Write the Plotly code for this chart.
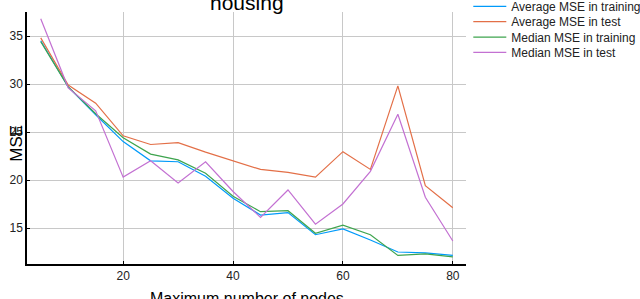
import plotly.graph_objects as go

nodes = [5, 10, 15, 20, 25, 30, 35, 40, 45, 50, 55, 60, 65, 70, 75, 80]
avg_train = [34.5, 29.7, 26.8, 24.0, 22.0, 21.9, 20.4, 18.1, 16.35, 16.6, 14.3, 14.9, 13.75, 12.5, 12.4, 12.15]
avg_test = [34.8, 29.9, 28.0, 24.6, 23.7, 23.9, 22.9, 22.0, 21.1, 20.8, 20.3, 22.95, 21.1, 29.8, 19.4, 17.1]
med_train = [34.4, 29.7, 26.9, 24.4, 22.7, 22.1, 20.7, 18.3, 16.7, 16.8, 14.45, 15.3, 14.3, 12.15, 12.3, 12.0]
med_test = [36.8, 29.6, 27.2, 20.3, 22.0, 19.7, 21.9, 18.8, 16.1, 18.96, 15.4, 17.5, 20.9, 26.85, 18.2, 13.65]

series_names = ["Average MSE in training", "Average MSE in test",
                "Median MSE in training", "Median MSE in test"]
series_vals = [avg_train, avg_test, med_train, med_test]
colors = ["#009AFA", "#E36F47", "#3EA44E", "#C371D2"]
x_ticks = [20, 40, 60, 80]
y_ticks = [15, 20, 25, 30, 35]

FONT = "Liberation Sans, Arial, Helvetica, sans-serif"

fig = go.Figure()
legend_ids = ["legend", "legend2", "legend3", "legend4"]
for name, vals, col, lid in zip(series_names, series_vals, colors, legend_ids):
    fig.add_trace(go.Scatter(x=nodes, y=vals, mode="lines", name=name,
                             line=dict(color=col, width=1.2), legend=lid))

W, H = 640, 299
ml, mr, mt, mb = 26.7, 174.3, 12.3, 35
pw = W - ml - mr
ph = H - mt - mb

def px_to_paper_y(py):
    return 1 - (py - mt) / ph

def px_to_paper_x(px):
    return (px - ml) / pw

leg_y = [6.7, 22.0, 37.3, 52.6]
layout_legends = {}
for lid, py in zip(legend_ids, leg_y):
    layout_legends[lid] = dict(
        x=px_to_paper_x(468), y=px_to_paper_y(py), xanchor="left", yanchor="middle",
        bgcolor="rgba(0,0,0,0)", borderwidth=0, itemwidth=33,
        font=dict(family=FONT, size=12, color="#222"),
    )

fig.update_layout(
    width=W, height=H,
    margin=dict(l=ml, r=mr, t=mt, b=mb, pad=0, autoexpand=False),
    paper_bgcolor="white", plot_bgcolor="white",
    font=dict(family=FONT, size=11, color="#222"),
    showlegend=True,
    **layout_legends,
)

fig.update_xaxes(range=[2.5, 82.4], tickvals=x_ticks, ticktext=[str(v) for v in x_ticks],
                 showgrid=True, gridcolor="#c8c8c8", gridwidth=1, zeroline=False,
                 showline=True, linecolor="black", linewidth=1.5, mirror=False,
                 ticks="inside", ticklen=3, tickcolor="black", tickwidth=1.2,
                 automargin=False,
                 tickfont=dict(family=FONT, size=12, color="#222"))
fig.update_yaxes(range=[11.25, 37.5], tickvals=y_ticks, ticktext=[str(v) for v in y_ticks],
                 showgrid=True, gridcolor="#c8c8c8", gridwidth=1, zeroline=False,
                 showline=True, linecolor="black", linewidth=1.5, mirror=False,
                 ticks="inside", ticklen=3, tickcolor="black", tickwidth=1.2,
                 automargin=False,
                 tickfont=dict(family=FONT, size=12, color="#222"))

fig.add_annotation(text="housing", xref="paper", yref="paper", x=0.5, y=1,
                   xanchor="center", yanchor="bottom", yshift=-4, showarrow=False,
                   font=dict(family=FONT, size=21, color="black"))
fig.add_annotation(text="Maximum number of nodes", xref="paper", yref="paper",
                   x=0.5, y=px_to_paper_y(288), xanchor="center", yanchor="top",
                   showarrow=False, font=dict(family=FONT, size=16, color="black"))
fig.add_annotation(text="MSE", xref="paper", yref="paper", textangle=-90,
                   x=px_to_paper_x(16.5), y=px_to_paper_y(143), xanchor="center",
                   yanchor="middle", showarrow=False,
                   font=dict(family=FONT, size=17, color="black"))

fig.write_html("out.html", config={"displayModeBar": False})

# remove the browser's default 8px body margin so the figure sits at the page origin
with open("out.html", "r", encoding="utf-8") as f:
    html = f.read()
html = html.replace("<body>", '<body style="margin:0;padding:0;overflow:hidden">', 1)
with open("out.html", "w", encoding="utf-8") as f:
    f.write(html)
